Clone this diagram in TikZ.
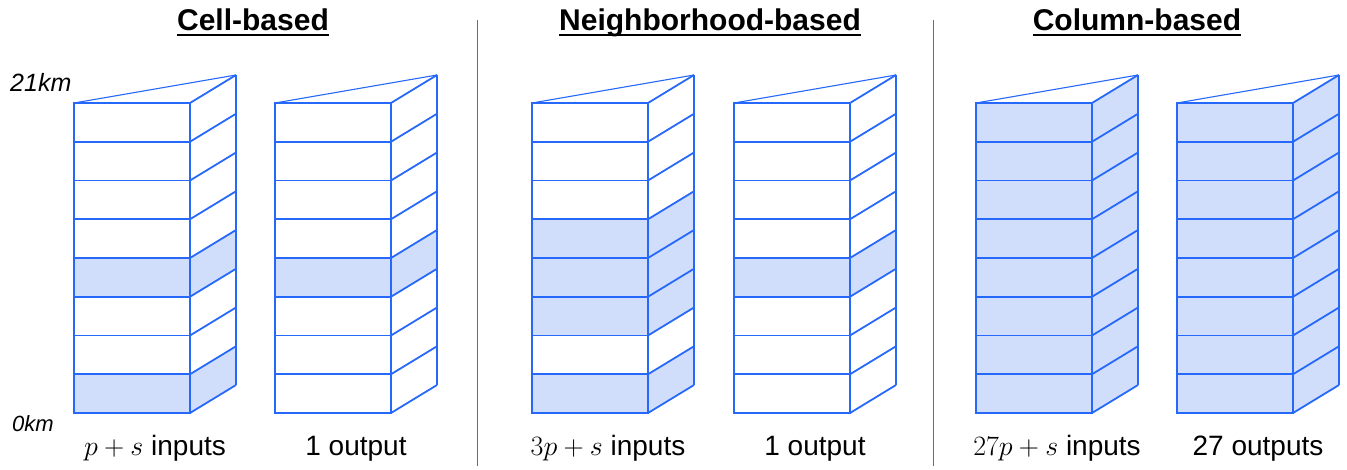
\documentclass[tikz,border=0pt]{standalone}
\usepackage{fix-cm}
\usepackage{fontspec}
\setmainfont{Liberation Sans}
\usepackage{tikz}
\usetikzlibrary{positioning}
\definecolor{boxblue}{RGB}{38,105,250}
\definecolor{cellfill}{RGB}{208,222,251}
\definecolor{sepblue}{RGB}{68,114,196}
\tikzset{>=latex}

\begin{document}
\begin{tikzpicture}[x=1pt,y=-1pt,
  box/.style={draw=boxblue, line width=1.8pt},
  boxthin/.style={draw=boxblue, line width=1.1pt},
  shade/.style={fill=cellfill},
  sep/.style={draw=sepblue, line width=1pt},
  title/.style={inner sep=0pt, anchor=base, font=\fontsize{30}{32}\selectfont\bfseries},
  count/.style={inner sep=0pt, anchor=base, font=\fontsize{28}{30}\selectfont},
  height/.style={inner sep=0pt, anchor=base west, font=\itshape}]

\useasboundingbox (0,0) rectangle (1347,469);

% Separators
\draw[sep] (477,20) -- (477,466);
\draw[sep] (933,20) -- (933,466);

% Titles
\node[title] (tcell) at (253,30) {Cell-based};
\node[title] (tnbr) at (710,30) {Neighborhood-based};
\node[title] (tcol) at (1137,30) {Column-based};
\foreach \t in {tcell,tnbr,tcol}
  \draw[black, line width=2.6pt] ([yshift=-5pt]\t.base west) -- ([yshift=-5pt]\t.base east);

% Shaded cells
\foreach \sx/\k in {74/5,74/8,275/5,532/4,532/5,532/6,532/8,734/5,
                    976/1,976/2,976/3,976/4,976/5,976/6,976/7,976/8,
                    1177/1,1177/2,1177/3,1177/4,1177/5,1177/6,1177/7,1177/8}{
  \fill[shade] (\sx,{103+(\k-1)*38.75}) rectangle (\sx+116,{103+\k*38.75});
  \fill[shade] (\sx+116,{103+(\k-1)*38.75}) -- ++(46,-28) -- ++(0,38.75)
    -- ++(-46,28) -- cycle;
}

% Stacks of cells
\foreach \sx in {74,275,532,734,976,1177}{
  \draw[box] (\sx,103) rectangle (\sx+116,413);
  \foreach \k in {1,...,7}
    \draw[box] (\sx,{103+\k*38.75}) -- (\sx+116,{103+\k*38.75});
  \foreach \k in {0,...,8}
    \draw[box] (\sx+116,{103+\k*38.75}) -- ++(46,-28);
  \draw[box] (\sx+162,75) -- (\sx+162,385);
  \draw[boxthin] (\sx,103) -- (\sx+162,75);
}

% Height labels
\node[height, font=\fontsize{25}{27}\selectfont\itshape] (top) at (10,91) {21km};
\node[height, font=\fontsize{22}{24}\selectfont\itshape] (bottom) at (12,431) {0km};

% Inputs and outputs
\node[count] (in1) at (155,455) {$p+s$ inputs};
\node[count] (out1) at (356,455) {1 output};
\node[count] (in2) at (608,455) {$3p+s$ inputs};
\node[count] (out2) at (815,455) {1 output};
\node[count] (in3) at (1057,455) {$27p+s$ inputs};
\node[count] (out3) at (1258,455) {27 outputs};

\end{tikzpicture}
\end{document}
